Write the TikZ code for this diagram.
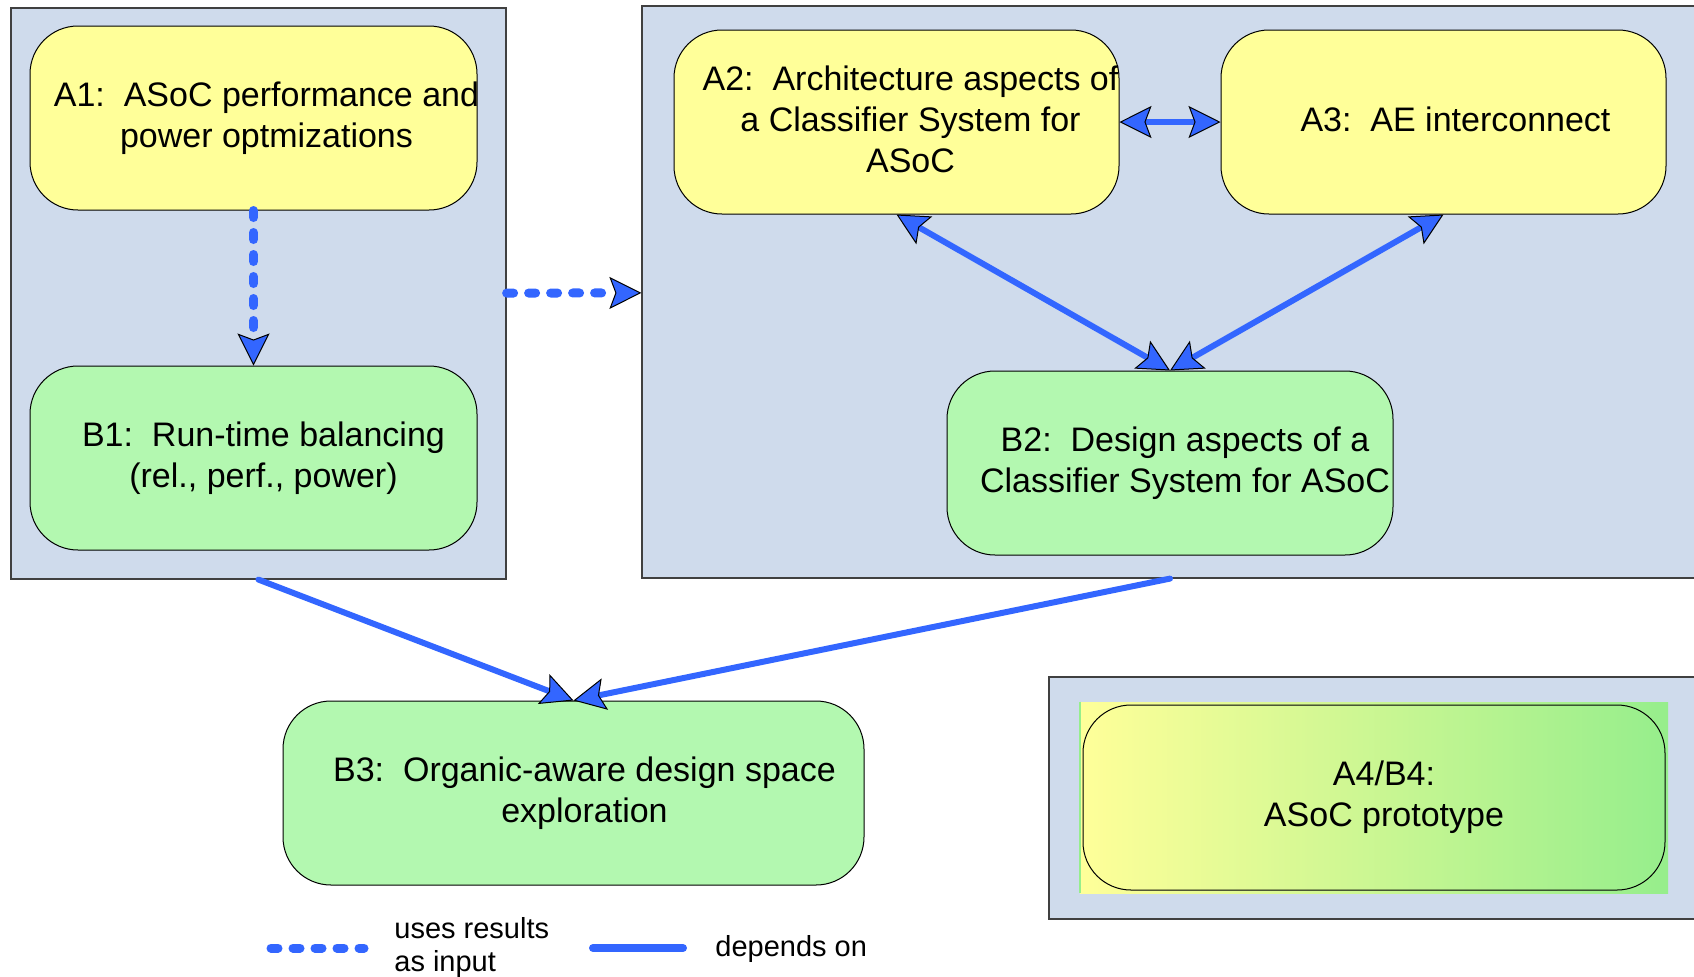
\documentclass[tikz,border=0pt]{standalone}
\usepackage{fontspec}
\setmainfont{Liberation Sans}
\usetikzlibrary{arrows.meta,fit}

\definecolor{grigioblu}{HTML}{CFDBEC}
\definecolor{giallo}{HTML}{FFFF99}
\definecolor{verde}{HTML}{B3F8B0}
\definecolor{verdescuro}{HTML}{96EE8C}
\definecolor{blu}{HTML}{3366FF}

\begin{document}
\begin{tikzpicture}[x=0.5pt, y=-0.5pt,
        riquadro/.style={draw=black!75, line width=0.6pt, fill=grigioblu, inner sep=0pt},
        boxa/.style={draw=black, line width=0.5pt, fill=giallo, rounded corners=24pt, inner sep=0pt},
        boxb/.style={boxa, fill=verde},
        testo/.style={inner sep=0pt, align=center, font=\fontsize{17pt}{20.5pt}\selectfont},
        leggenda/.style={inner sep=0pt, font=\fontsize{14.5pt}{16.5pt}\selectfont},
        legame/.style={draw=blu, line width=3pt, line cap=round},
        uso/.style={draw=blu, line width=4.5pt, line cap=round, dash pattern=on 3.5pt off 7.5pt},
        >={Stealth[length=16pt, width=16pt, inset=3pt, fill=blu, color=black, line width=0.5pt]}]
        \useasboundingbox (0,0) rectangle (1694,976);
        \clip (0,0) rectangle (1694,976);

        % pannelli di sfondo
        \node[riquadro, fit={(11,8) (506,579)}] (sx) {};
        \node[riquadro, fit={(642,6) (1710,578)}] (dx) {}; % esce a destra
        \node[riquadro, fit={(1049,677) (1710,919)}] (proto) {};

        % blocchi
        \node[boxa, fit={(30,26) (477,210)}] (a1) {};
        \node[boxb, fit={(30,366) (477,550)}] (b1) {};
        \node[boxa, fit={(674,30) (1119,214)}] (a2) {};
        \node[boxa, fit={(1221,30) (1666,214)}] (a3) {};
        \node[boxb, fit={(947,371) (1393,555)}] (b2) {};
        \node[boxb, fit={(283,701) (864,885)}] (b3) {};
        \node[inner sep=0pt, left color=giallo, right color=verdescuro, fit={(1080,702) (1668,893)}] (sfumato) {};
        \draw[verdescuro, line width=1pt] (sfumato.north west) -- (sfumato.south west); % bordino a sinistra
        \node[draw=black, line width=0.5pt, rounded corners=24pt, inner sep=0pt, fit={(1083,705) (1665,890)}] (a4) {};

        % testi dei blocchi
        \node[testo] (a1t) at ([shift={(13,0)}]a1.center) {A1:\ \ ASoC performance and\\power optmizations};
        \node[testo] (b1t) at ([shift={(10,0)}]b1.center) {B1:\ \ Run-time balancing\\(rel., perf., power)};
        \node[testo] (a2t) at ([shift={(14,-3)}]a2.center) {A2:\ \ Architecture aspects of\\a Classifier System for\\ASoC};
        \node[testo] (a3t) at ([shift={(12,-3)}]a3.center) {A3:\ \ AE interconnect};
        \node[testo] (b2t) at ([shift={(15,0)}]b2.center) {B2:\ \ Design aspects of a\\Classifier System for ASoC};
        \node[testo] (b3t) at ([shift={(11,0)}]b3.center) {B3:\ \ Organic-aware design space\\exploration};
        \node[testo] (a4t) at ([shift={(10,0)}]a4.center) {A4/B4:\\ASoC prototype};

        % frecce
        \draw[uso, ->] (a1) -- (b1);
        \draw[uso, ->] (sx) -- (dx);
        \draw[legame, <->] (a2) -- (a3);
        \draw[legame, <->] (a2.south) -- (b2.north);
        \draw[legame, <->] (a3.south) -- (b2.north);
        \draw[legame, ->] (sx.south) -- (b3.north);
        \draw[legame, ->] (b2.south |- dx.south) -- (b3.north);

        % legenda
        \coordinate (u1) at (271,948);
        \coordinate (u2) at (364,948);
        \draw[uso] (u1) -- (u2);
        \node[leggenda, anchor=west, align=left] (lu) at (394,947) {uses results\\as input};
        \coordinate (d1) at (593,948);
        \coordinate (d2) at (683,948);
        \draw[legame, line width=4pt] (d1) -- (d2);
        \node[leggenda, anchor=west] (ld) at (715,949) {depends on};
    \end{tikzpicture}
\end{document}
